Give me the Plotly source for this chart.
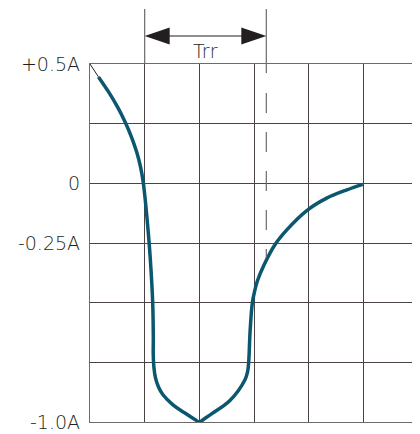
import plotly.graph_objects as go

# Data (x in grid divisions, y in amperes)
lead_x = [0.0, 0.155]
lead_y = [0.5, 0.446]
curve_x = [0.155, 0.340, 0.503, 0.642, 0.759, 0.854, 0.924, 0.975,
           1.067, 1.116, 1.147, 1.158, 1.157, 1.170, 1.198, 1.253, 1.335, 1.518, 1.72, 1.92, 2.0,
           2.10, 2.23, 2.56, 2.835, 2.882, 2.902, 2.93, 2.97, 3.009, 3.06, 3.185, 3.38, 3.60, 3.96,
           4.33, 4.70, 4.99]
curve_y = [0.446, 0.383, 0.320, 0.257, 0.194, 0.131, 0.069, 0.002,
           -0.209, -0.363, -0.502, -0.641, -0.719, -0.773, -0.815, -0.853, -0.886, -0.928, -0.96, -0.99, -1.0,
           -0.985, -0.965, -0.91, -0.823, -0.79, -0.752, -0.614, -0.50, -0.455, -0.41, -0.341, -0.258, -0.195, -0.115,
           -0.062, -0.027, -0.004]
y_ticks = [-1.0, -0.75, -0.5, -0.25, 0.0, 0.25, 0.5]
y_labels = ["-1.0A", "", "", "-0.25A", "0", "", "+0.5A"]
trr_start = 1.0
trr_end = 3.225
dash_bottom = -0.312
trr_label = "Trr"

X_MAX = 6.0
Y_MIN, Y_MAX = -1.0, 0.5
OFF = 8                      # page body margin
W, H = 412, 426
ML, MR, MT, MB = 82, 2, 56, 12
PW, PH = W - ML - MR, H - MT - MB
PLOT_BOTTOM = OFF + H - MB   # page pixel


def px_x(x):  # data -> paper x
    return x / X_MAX


def pxl_y(py):  # page pixel y -> paper y
    return (PLOT_BOTTOM - py) / PH


def data_y_from_px(py):
    return Y_MIN + pxl_y(py) * (Y_MAX - Y_MIN)


ink = "#231f20"
teal = "#0b5770"
txt = "#231f20"
FONT = "DejaVu Sans, sans-serif"

fig = go.Figure()
fig.add_trace(go.Scatter(x=lead_x, y=lead_y, mode="lines",
                         line=dict(color=ink, width=1), hoverinfo="skip"))
fig.add_trace(go.Scatter(x=curve_x, y=curve_y, mode="lines",
                         line=dict(color=teal, width=3.5, shape="spline", smoothing=1.0),
                         hoverinfo="skip"))

shapes = []
xs, xe = px_x(trr_start), px_x(trr_end)
y_top = pxl_y(9)
y_arrow = pxl_y(36)
ah_len = 25 / PW
ah_half = 8.5 / PH
# vertical markers above the plot
shapes.append(dict(type="line", xref="paper", yref="paper", x0=xs, x1=xs, y0=y_top, y1=1.0,
                   line=dict(color="#6e6a6b", width=1.2)))
shapes.append(dict(type="line", xref="paper", yref="paper", x0=xe, x1=xe, y0=y_top, y1=pxl_y(73),
                   line=dict(color="#6e6a6b", width=1.2)))
# dashed continuation
shapes.append(dict(type="line", xref="x", yref="y", x0=trr_end, x1=trr_end,
                   y0=data_y_from_px(93), y1=dash_bottom,
                   line=dict(color="#6e6a6b", width=1.2, dash="20px,19px")))
# arrow shaft
shapes.append(dict(type="line", xref="paper", yref="paper", x0=xs + ah_len * 0.8, x1=xe - ah_len * 0.8,
                   y0=y_arrow, y1=y_arrow, line=dict(color=ink, width=1.2)))
# arrow heads
shapes.append(dict(type="path", xref="paper", yref="paper",
                   path=f"M {xs} {y_arrow} L {xs + ah_len} {y_arrow + ah_half} L {xs + ah_len} {y_arrow - ah_half} Z",
                   fillcolor=ink, line=dict(width=0)))
shapes.append(dict(type="path", xref="paper", yref="paper",
                   path=f"M {xe} {y_arrow} L {xe - ah_len} {y_arrow + ah_half} L {xe - ah_len} {y_arrow - ah_half} Z",
                   fillcolor=ink, line=dict(width=0)))

fig.update_layout(
    width=W, height=H, autosize=False,
    margin=dict(l=ML, r=MR, t=MT, b=MB, pad=0),
    paper_bgcolor="white", plot_bgcolor="white",
    showlegend=False,
    font=dict(family=FONT, size=19, color=txt, weight=200),
    shapes=shapes,
    annotations=[dict(text=trr_label, xref="paper", yref="paper", x=(xs + xe) / 2, y=pxl_y(51),
                      showarrow=False, xanchor="center", yanchor="middle",
                      font=dict(family=FONT, size=19, color=txt, weight=200))],
    xaxis=dict(range=[0, X_MAX], dtick=1, tick0=0, showticklabels=False, ticks="",
               showgrid=True, gridcolor="#4a4244", gridwidth=1.2, zeroline=False,
               showline=True, linecolor="#6e6a6b", linewidth=1.2, mirror=True, fixedrange=True),
    yaxis=dict(range=[Y_MIN, Y_MAX], tickmode="array", tickvals=y_ticks, ticktext=y_labels,
               ticks="", ticklabelstandoff=5,
               showgrid=True, gridcolor="#4a4244", gridwidth=1.2, zeroline=False,
               showline=True, linecolor="#6e6a6b", linewidth=1.2, mirror=True, fixedrange=True),
)

fig.write_html("out.html")
